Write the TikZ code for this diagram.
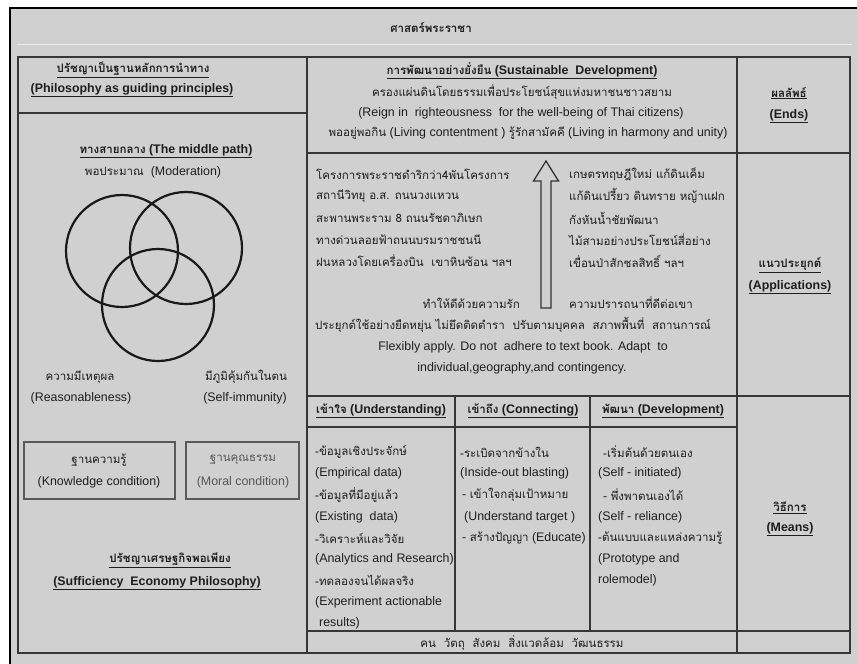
\documentclass[tikz,border=0pt]{standalone}
\usepackage{fontspec}
\setmainfont{Liberation Sans}
\newfontfamily\thaifont[Script=Thai, Scale=0.93]{Loma}
\newcommand\T[1]{{\thaifont #1}}
\newcommand\fz{\fontsize{12.4}{14}\selectfont}
\definecolor{bg}{RGB}{208,208,208}
\definecolor{ink}{RGB}{30,30,30}
\definecolor{rule}{RGB}{55,55,55}
\tikzset{
  tx/.style={inner sep=0pt, text=ink, font=\fz},
  bx/.style={tx, font=\fz\bfseries},
  grid/.style={draw=rule, line width=1.3pt},
  ring/.style={draw=black!90, line width=2.2pt},
  cond/.style={draw=black!65, line width=1.2pt}
}
\begin{document}
\begin{tikzpicture}[x=1pt,y=-1pt]
\useasboundingbox (0,0) rectangle (857,664);
\fill[white] (0,0) rectangle (857,664);
\begin{scope}
\clip (0,0) rectangle (857,664);
\draw[line width=1.8pt, fill=bg] (10,8) rectangle (875,690);
\end{scope}
\draw[white!60!bg, line width=1pt] (17,44) -- (852,44);

% table
\draw[grid] (18,57) rectangle (850,653);
\draw[grid] (307,57) -- (307,653);
\draw[grid] (737,57) -- (737,653);
\draw[grid] (18,113) -- (307,113);
\draw[grid] (307,153) -- (850,153);
\draw[grid] (307,396) -- (850,396);
\draw[grid] (307,427) -- (737,427);
\draw[grid] (455,396) -- (455,631);
\draw[grid] (590,396) -- (590,631);
\draw[grid] (307,631) -- (850,631);

% title
\node[bx] (title) at (431,27) {\T{ศาสตร์พระราชา}};

% left column
\node[bx] (phil1) at (133,70) {\underline{\T{ปรัชญาเป็นฐานหลักการนำทาง}}};
\node[bx] (phil2) at (132,90) {\underline{(Philosophy as guiding principles)}};
\node[bx] (mid) at (166,151) {\underline{\T{ทางสายกลาง} (The middle path)}};
\node[tx] (mod) at (153,172) {\T{พอประมาณ}\ \ (Moderation)};
\draw[ring] (122,251) circle[radius=56];
\draw[ring] (186,248) circle[radius=56];
\draw[ring] (158,305) circle[radius=56];
\node[tx] (reas1) at (80,377) {\T{ความมีเหตุผล}};
\node[tx] (reas2) at (81,398) {(Reasonableness)};
\node[tx] (imm1) at (246,377) {\T{มีภูมิคุ้มกันในตน}};
\node[tx] (imm2) at (245,398) {(Self-immunity)};
\draw[cond] (24,442) rectangle (175,499);
\draw[cond] (186,442) rectangle (299,499);
\node[tx] (know1) at (99,460) {\T{ฐานความรู้}};
\node[tx] (know2) at (99,482) {(Knowledge condition)};
\node[tx, text=ink!75] (moral1) at (243,460) {\T{ฐานคุณธรรม}};
\node[tx, text=ink!75] (moral2) at (243,482) {(Moral condition)};
\node[bx] (sep1) at (170,560) {\underline{\T{ปรัชญาเศรษฐกิจพอเพียง}}};
\node[bx] (sep2) at (157,583) {\underline{(Sufficiency\ \ Economy Philosophy)}};

% middle top
\node[bx] (sd) at (522,71) {\underline{\T{การพัฒนาอย่างยั่งยืน} (Sustainable\ \ Development)}};
\node[tx] (reign1) at (522,92) {\T{ครองแผ่นดินโดยธรรมเพื่อประโยชน์สุขแห่งมหาชนชาวสยาม}};
\node[tx] (reign2) at (521,113) {(Reign in\ \ righteousness\ \ for the well-being of Thai citizens)};
\node[tx] (live) at (528,133) {\T{พออยู่พอกิน} (Living contentment ) \T{รู้รักสามัคคี} (Living in harmony and unity)};

% right column
\node[bx] (ends1) at (789,93) {\underline{\T{ผลลัพธ์}}};
\node[bx] (ends2) at (789,116) {\underline{(Ends)}};
\node[bx] (apps1) at (790,265) {\underline{\T{แนวประยุกต์}}};
\node[bx] (apps2) at (790,287) {\underline{(Applications)}};
\node[bx] (means1) at (790,508) {\underline{\T{วิธีการ}}};
\node[bx] (means2) at (790,529) {\underline{(Means)}};

% applications
\node[tx, anchor=west] (a1) at (316,174) {\T{โครงการพระราชดำริกว่า4พันโครงการ}};
\node[tx, anchor=west] (a2) at (316,196) {\T{สถานีวิทยุ อ.ส. ถนนวงแหวน}};
\node[tx, anchor=west] (a3) at (316,218) {\T{สะพานพระราม 8 ถนนรัชดาภิเษก}};
\node[tx, anchor=west] (a4) at (316,240) {\T{ทางด่วนลอยฟ้าถนนบรมราชชนนี}};
\node[tx, anchor=west] (a5) at (316,261) {\T{ฝนหลวงโดยเครื่องบิน\ \ เขาหินซ้อน ฯลฯ}};
\node[tx, anchor=west] (b1) at (569,174) {\T{เกษตรทฤษฎีใหม่ แก้ดินเค็ม}};
\node[tx, anchor=west] (b2) at (569,196) {\T{แก้ดินเปรี้ยว ดินทราย หญ้าแฝก}};
\node[tx, anchor=west] (b3) at (569,218) {\T{กังหันน้ำชัยพัฒนา}};
\node[tx, anchor=west] (b4) at (569,240) {\T{ไม้สามอย่างประโยชน์สี่อย่าง}};
\node[tx, anchor=west] (b5) at (569,261) {\T{เขื่อนป่าสักชลสิทธิ์ ฯลฯ}};
\draw[draw=black!80, line width=1.3pt, fill=bg]
  (546,161) -- (558.5,181) -- (551,181) -- (551,308) -- (541,308) -- (541,181) -- (533.5,181) -- cycle;
\node[tx, anchor=east] (love) at (520,303) {\T{ทำให้ดีด้วยความรัก}};
\node[tx, anchor=west] (wish) at (569,303) {\T{ความปรารถนาที่ดีต่อเขา}};
\node[tx] (apply) at (513,325) {\T{ประยุกต์ใช้อย่างยืดหยุ่น ไม่ยึดติดตำรา\ \ ปรับตามบุคคล\ \ สภาพพื้นที่\ \ สถานการณ์}};
\node[tx] (flex1) at (523,347) {Flexibly apply. Do not\ \ adhere to text book. Adapt\ \ to};
\node[tx] (flex2) at (522,368) {individual,geography,and contingency.};

% means headers
\node[bx] (und) at (381,411) {\underline{\T{เข้าใจ} (Understanding)}};
\node[bx] (con) at (523,411) {\underline{\T{เข้าถึง} (Connecting)}};
\node[bx] (dev) at (663,411) {\underline{\T{พัฒนา} (Development)}};

% understanding
\node[tx, anchor=west] (u1) at (315,452) {\T{-ข้อมูลเชิงประจักษ์}};
\node[tx, anchor=west] (u2) at (315,473) {(Empirical data)};
\node[tx, anchor=west] (u3) at (315,495) {\T{-ข้อมูลที่มีอยู่แล้ว}};
\node[tx, anchor=west] (u4) at (315,517) {(Existing\ \ data)};
\node[tx, anchor=west] (u5) at (315,538) {\T{-วิเคราะห์และวิจัย}};
\node[tx, anchor=west] (u6) at (315,559) {(Analytics and Research)};
\node[tx, anchor=west] (u7) at (315,580) {\T{-ทดลองจนได้ผลจริง}};
\node[tx, anchor=west] (u8) at (315,602) {(Experiment actionable};
\node[tx, anchor=west] (u9) at (319,623) {results)};

% connecting
\node[tx, anchor=west] (c1) at (460,452) {\T{-ระเบิดจากข้างใน}};
\node[tx, anchor=west] (c2) at (460,473) {(Inside-out blasting)};
\node[tx, anchor=west] (c3) at (462,495) {- \T{เข้าใจกลุ่มเป้าหมาย}};
\node[tx, anchor=west] (c4) at (464,517) {(Understand target )};
\node[tx, anchor=west] (c5) at (462,538) {- \T{สร้างปัญญา} (Educate)};

% development
\node[tx, anchor=west] (d1) at (603,452) {\T{-เริ่มต้นด้วยตนเอง}};
\node[tx, anchor=west] (d2) at (598,473) {(Self - initiated)};
\node[tx, anchor=west] (d3) at (603,495) {- \T{พึ่งพาตนเองได้}};
\node[tx, anchor=west] (d4) at (598,517) {(Self - reliance)};
\node[tx, anchor=west] (d5) at (598,538) {\T{-ต้นแบบและแหล่งความรู้}};
\node[tx, anchor=west] (d6) at (598,559) {(Prototype and};
\node[tx, anchor=west] (d7) at (598,580) {rolemodel)};

% bottom
\node[tx] (bottom) at (522,643) {\T{คน\ \ วัตถุ\ \ สังคม\ \ สิ่งแวดล้อม\ \ วัฒนธรรม}};
\end{tikzpicture}
\end{document}
